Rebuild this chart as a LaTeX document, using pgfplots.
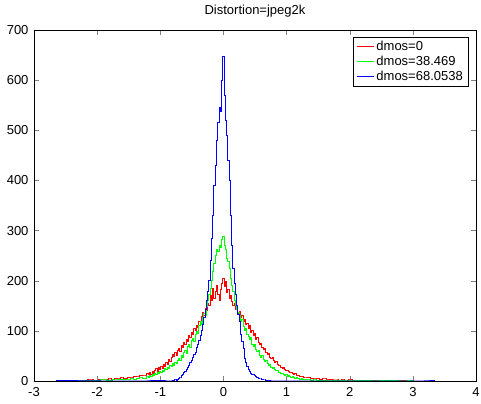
\documentclass[border=0pt]{standalone}
\usepackage{fontspec}
\setmainfont{Liberation Sans}
\usepackage{pgfplots}
\pgfplotsset{compat=1.18}
\begin{document}
\begin{tikzpicture}
\begin{axis}[name=ax,
  scale only axis, width=442bp, height=351bp,
  xmin=-3, xmax=4, ymin=0, ymax=700,
  xtick={-3,-2,-1,0,1,2,3,4}, xticklabels={-3,-2,-1,0,1,2,3,4},
  ytick={0,100,200,300,400,500,600,700},
  yticklabels={0,100,200,300,400,500,600,700},
  tick align=inside, major tick length=5bp,
  ticklabel style={font=\fontsize{13bp}{15bp}\selectfont},
  yticklabel style={xshift=-2bp},
  xticklabel style={yshift=-3bp},
  title={Distortion=jpeg2k},
  title style={at={(0.5,1)}, anchor=base, yshift=10bp, font=\fontsize{13bp}{15bp}\selectfont},
  legend cell align=left,
  legend style={at={(1,1)}, anchor=north east, xshift=-8bp, yshift=-7bp,
    font=\fontsize{13bp}{15bp}\selectfont},
  no markers,
]
\addplot[red, line width=1bp, const plot mark mid] coordinates {
(-2.6,0)(-2.5,1)(-2.4,0)(-2.3,1)(-2.2,1)(-2.1,2)(-2.0,1)(-1.95,3)(-1.9,2)(-1.85,3)(-1.8,4)(-1.75,3)(-1.7,5)(-1.65,4)(-1.6,6)(-1.55,5)(-1.5,7)(-1.45,6)(-1.4,9)(-1.35,8)(-1.3,11)(-1.25,10)
(-1.20,14)(-1.18,12)(-1.16,16)(-1.14,13)(-1.12,18)(-1.10,15)(-1.08,20)(-1.06,24)(-1.04,19)(-1.02,26)(-1.00,22)(-0.98,28)(-0.96,25)(-0.94,32)(-0.92,29)(-0.90,36)(-0.88,33)(-0.86,42)(-0.84,38)(-0.82,46)(-0.80,52)(-0.78,48)(-0.76,56)(-0.74,50)(-0.72,60)(-0.70,64)(-0.68,58)(-0.66,70)(-0.64,66)(-0.62,76)(-0.60,72)(-0.58,82)(-0.56,78)(-0.54,90)(-0.52,86)(-0.50,96)(-0.48,92)(-0.46,104)(-0.44,100)(-0.42,110)(-0.40,106)(-0.38,118)(-0.36,114)(-0.34,128)(-0.32,136)(-0.30,130)(-0.28,145)(-0.26,140)(-0.24,155)(-0.22,150)(-0.20,170)(-0.18,160)(-0.16,185)(-0.14,165)(-0.12,178)(-0.10,190)(-0.08,172)(-0.06,160)(-0.04,182)(-0.02,195)
(0.00,205)(0.02,188)(0.04,198)(0.06,176)(0.08,182)(0.10,165)(0.12,170)(0.14,158)(0.16,150)(0.18,155)(0.20,142)(0.22,146)(0.24,135)(0.26,138)(0.28,126)(0.30,130)(0.32,118)(0.34,122)(0.36,112)(0.38,115)(0.40,105)(0.42,110)(0.44,96)(0.46,100)(0.48,90)(0.50,94)(0.52,82)(0.54,86)(0.56,76)(0.58,72)(0.60,75)(0.62,66)(0.64,62)(0.66,64)(0.68,56)(0.70,52)(0.72,54)(0.74,47)(0.76,44)(0.78,46)(0.80,40)(0.82,37)(0.84,39)(0.86,33)(0.88,30)(0.90,31)(0.92,27)(0.94,25)(0.96,26)(0.98,22)(1.00,20)(1.02,21)(1.04,18)(1.06,16)(1.08,17)(1.10,14)(1.12,13)(1.14,14)(1.16,11)(1.18,10)(1.20,11)(1.22,9)(1.24,8)(1.26,9)(1.28,7)(1.30,6)
(1.35,7)(1.4,5)(1.45,4)(1.5,5)(1.55,3)(1.6,4)(1.65,2)(1.7,3)(1.75,2)(1.8,2)(1.85,1)(1.9,2)(1.95,1)(2.0,2)(2.1,1)(2.2,0)(2.3,1)(2.5,0)(2.7,1)(2.9,0)
};
\addlegendentry{dmos=0}
\addplot[green, line width=1bp, const plot mark mid] coordinates {
(-2.6,0)(-2.4,1)(-2.2,0)(-2.0,1)(-1.9,2)(-1.8,1)(-1.7,2)(-1.6,3)(-1.5,2)(-1.45,4)(-1.4,3)(-1.35,5)(-1.3,6)(-1.25,5)
(-1.20,8)(-1.18,7)(-1.16,10)(-1.14,9)(-1.12,12)(-1.10,11)(-1.08,14)(-1.06,13)(-1.04,16)(-1.02,15)(-1.00,18)(-0.98,17)(-0.96,21)(-0.94,19)(-0.92,24)(-0.90,22)(-0.88,27)(-0.86,25)(-0.84,30)(-0.82,28)(-0.80,34)(-0.78,31)(-0.76,37)(-0.74,35)(-0.72,41)(-0.70,44)(-0.68,40)(-0.66,50)(-0.64,47)(-0.62,56)(-0.60,60)(-0.58,55)(-0.56,68)(-0.54,72)(-0.52,66)(-0.50,80)(-0.48,84)(-0.46,78)(-0.44,92)(-0.42,98)(-0.40,94)(-0.38,110)(-0.36,118)(-0.34,112)(-0.32,126)(-0.30,135)(-0.28,130)(-0.26,148)(-0.24,160)(-0.22,172)(-0.20,185)(-0.18,200)(-0.16,218)(-0.14,235)(-0.12,250)(-0.10,262)(-0.08,258)(-0.06,270)(-0.04,266)(-0.02,282)
(0.00,288)(0.02,270)(0.04,262)(0.06,245)(0.08,238)(0.10,225)(0.12,205)(0.14,190)(0.16,178)(0.18,160)(0.20,150)(0.22,142)(0.24,136)(0.26,130)(0.28,118)(0.30,122)(0.32,108)(0.34,100)(0.36,104)(0.38,92)(0.40,88)(0.42,82)(0.44,86)(0.46,72)(0.48,68)(0.50,72)(0.52,62)(0.54,58)(0.56,60)(0.58,50)(0.60,47)(0.62,50)(0.64,42)(0.66,38)(0.68,40)(0.70,34)(0.72,31)(0.74,33)(0.76,27)(0.78,25)(0.80,26)(0.82,22)(0.84,20)(0.86,21)(0.88,17)(0.90,16)(0.92,14)(0.94,15)(0.96,12)(0.98,11)(1.00,12)(1.02,9)(1.04,10)(1.06,8)(1.08,7)(1.10,8)(1.12,6)(1.14,5)(1.16,6)(1.18,4)(1.20,5)(1.22,3)(1.24,4)(1.26,3)(1.28,2)(1.30,3)
(1.35,2)(1.4,1)(1.45,2)(1.5,1)(1.6,1)(1.7,0)(1.8,1)(2.0,0)(2.2,1)(2.4,0)(2.6,1)(2.8,0)(3.0,0)
};
\addlegendentry{dmos=38.469}
\addplot[blue, line width=1bp, const plot mark mid] coordinates {
(-2.65,0)(-1.2,0)(-1.0,1)(-0.9,0)(-0.82,0)
(-0.80,1)(-0.78,0)(-0.76,2)(-0.74,1)(-0.72,3)(-0.70,4)(-0.68,6)(-0.66,11)(-0.64,13)(-0.62,16)(-0.60,19)(-0.58,22)(-0.56,27)(-0.54,31)(-0.52,36)(-0.50,40)(-0.48,46)(-0.46,52)(-0.44,57)(-0.42,66)(-0.40,72)(-0.38,80)(-0.36,90)(-0.34,100)(-0.32,113)(-0.30,126)(-0.28,142)(-0.26,160)(-0.24,178)(-0.22,200)(-0.20,240)(-0.18,285)(-0.16,330)(-0.14,390)(-0.12,430)(-0.10,480)(-0.08,515)(-0.06,545)(-0.04,538)(-0.02,600)
(0.00,648)(0.02,570)(0.04,520)(0.06,490)(0.08,440)(0.10,400)(0.12,330)(0.14,270)(0.16,225)(0.18,195)(0.20,172)(0.22,150)(0.24,133)(0.26,118)(0.28,92)(0.30,78)(0.32,65)(0.34,45)(0.36,36)(0.38,28)(0.40,22)(0.42,18)(0.44,15)(0.46,13)(0.48,12)(0.50,10)(0.52,9)(0.54,7)(0.56,5)(0.58,4)(0.60,4)(0.62,3)(0.64,2)(0.66,2)(0.68,1)(0.70,1)(0.72,0)(0.74,1)(0.76,0)
(1.0,0)(1.5,0)(2.0,0)(2.5,0)(3.0,0)(3.35,0)
};
\addlegendentry{dmos=68.0538}
\end{axis}
\pgfresetboundingbox
\path[use as bounding box] ([xshift=-34bp,yshift=-23bp]ax.south west) rectangle ([xshift=5bp,yshift=30bp]ax.north east);
\end{tikzpicture}
\end{document}
